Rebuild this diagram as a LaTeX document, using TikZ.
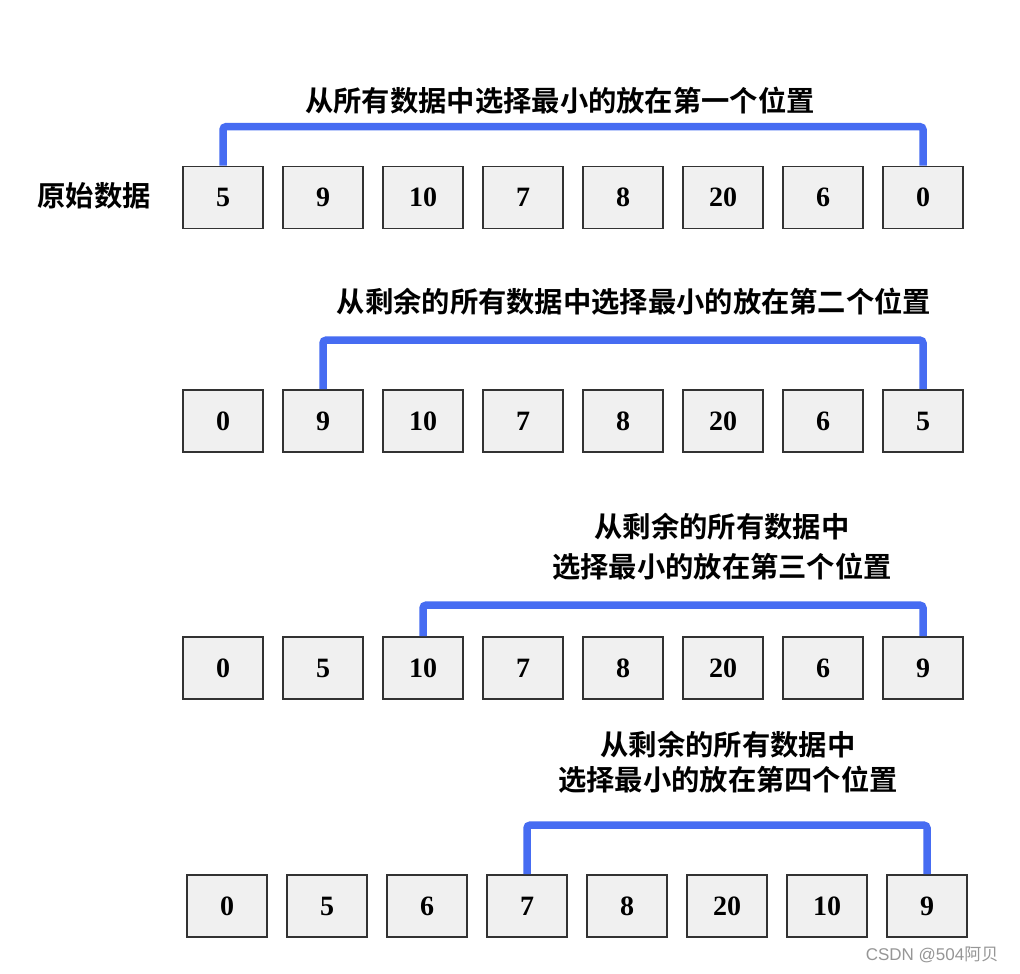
\documentclass[tikz,border=0pt]{standalone}
\usepackage{fontspec}
\newfontfamily\cjk{Noto Sans CJK SC Bold}
\newfontfamily\cjkr{Noto Sans CJK SC}
\newfontfamily\numf{Liberation Serif}
\newfontfamily\wmf{Liberation Sans}
\definecolor{boxfill}{RGB}{240,240,240}
\definecolor{boxline}{RGB}{50,50,50}
\definecolor{linkblue}{RGB}{70,108,242}
\definecolor{wmgray}{RGB}{150,150,150}
\begin{document}
\begin{tikzpicture}[x=1pt,y=-1pt,
  cell/.style={draw=boxline,line width=1.6pt,fill=boxfill,minimum width=80pt,minimum height=62pt,inner sep=0pt,font=\numf\bfseries\fontsize{28}{28}\selectfont},
  title/.style={inner sep=0pt,font=\cjk\fontsize{28.3}{40}\selectfont,align=center},
  link/.style={draw=linkblue,line width=7.5pt,rounded corners=3pt}]
\useasboundingbox[fill=white] (0,0) rectangle (1020,974);
% row 1
\foreach \v [count=\i] in {5,9,10,7,8,20,6,0}
  \node[cell] (a\i) at ({123+100*\i},197.5) {\v};
% row 2
\foreach \v [count=\i] in {0,9,10,7,8,20,6,5}
  \node[cell] (b\i) at ({123+100*\i},421) {\v};
% row 3
\foreach \v [count=\i] in {0,5,10,7,8,20,6,9}
  \node[cell] (c\i) at ({123+100*\i},668) {\v};
% row 4
\foreach \v [count=\i] in {0,5,6,7,8,20,10,9}
  \node[cell] (d\i) at ({127+100*\i},906) {\v};
% brackets
\draw[link] (a1.north) -- ++(0,-39) -| (a8.north);
\draw[link] (b2.north) -- ++(0,-49) -| (b8.north);
\draw[link] (c3.north) -- ++(0,-31) -| (c8.north);
\draw[link] (d4.north) -- ++(0,-49) -| (d8.north);
% texts
\node[title] (t0) at (94,196) {原始数据};
\node[title] (t1) at (560,101) {从所有数据中选择最小的放在第一个位置};
\node[title] (t2) at (634,302) {从剩余的所有数据中选择最小的放在第二个位置};
\node[title] (t3) at (722,547) {从剩余的所有数据中\\选择最小的放在第三个位置};
\node[title,font=\cjk\fontsize{28.3}{35}\selectfont] (t4) at (728,762) {从剩余的所有数据中\\选择最小的放在第四个位置};
\node[inner sep=0pt,text=wmgray,font=\wmf\fontsize{17}{17}\selectfont] (wm) at (932,955) {CSDN @504{\cjkr 阿贝}};
\end{tikzpicture}
\end{document}
